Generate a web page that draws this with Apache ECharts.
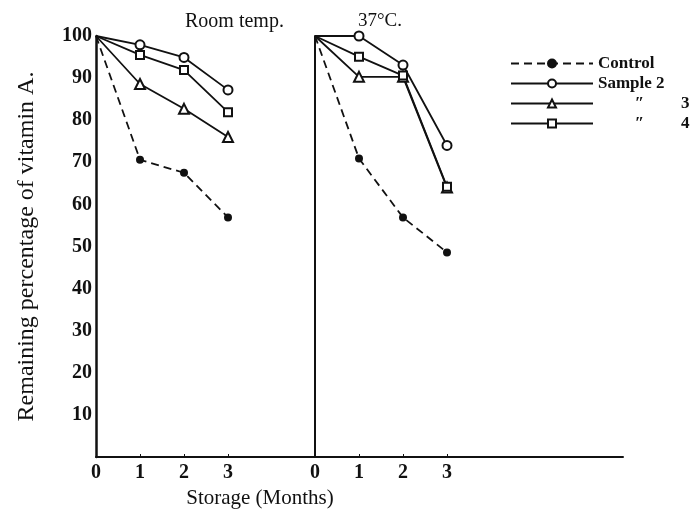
<!DOCTYPE html>
<html>
<head>
<meta charset="utf-8">
<script src="https://cdn.jsdelivr.net/npm/echarts@6/dist/echarts.min.js"></script>
<style>
  html, body { margin: 0; padding: 0; background: #fff; }
  #main { width: 693px; height: 509px; }
</style>
</head>
<body>
<div id="main"></div>
<script>
var months = [0, 1, 2, 3];
var seriesNames = ['Control', 'Sample 2', 'Sample 3', 'Sample 4'];

// room temperature panel
var roomControl = [100, 70.6, 67.5, 56.9];
var roomSample2 = [100, 97.9, 94.9, 87.2];
var roomSample3 = [100, 88.6, 82.7, 76.0];
var roomSample4 = [100, 95.5, 91.9, 81.9];

// 37°C panel
var hotControl = [100, 70.9, 56.9, 48.6];
var hotSample2 = [100, 100, 93.1, 74.0];
var hotSample3 = [100, 90.3, 90.3, 64.0];
var hotSample4 = [100, 95.1, 90.6, 64.2];

var xTicks = [0, 1, 2, 3];

var serif = '"Liberation Serif", "DejaVu Serif", serif';

// no marker on the common starting point
function pairs(vals) {
    return months.map(function (m, i) {
        return i === 0 ? { value: [m, vals[i]], symbol: 'none' } : [m, vals[i]];
    });
}

var styles = {
    'Control':  { symbol: 'circle', symbolSize: 6, dash: [8, 5], fill: '#111' },
    'Sample 2': { symbol: 'circle', symbolSize: 9, dash: 'solid', fill: '#fff' },
    'Sample 3': { symbol: 'triangle', symbolSize: 10, dash: 'solid', fill: '#fff' },
    'Sample 4': { symbol: 'rect', symbolSize: 8, dash: 'solid', fill: '#fff' }
};

function makeSeries(name, vals, idx) {
    var s = styles[name];
    return {
        name: name,
        type: 'line',
        xAxisIndex: idx,
        yAxisIndex: idx,
        data: pairs(vals),
        symbol: s.symbol,
        symbolSize: s.symbolSize,
        lineStyle: { color: '#111', width: 1.8, type: s.dash },
        itemStyle: { color: s.fill, borderColor: '#111', borderWidth: 2 },
        animation: false
    };
}

var myChart = echarts.init(document.getElementById('main'));

var option = {
    backgroundColor: '#fff',
    title: [
        { text: 'Room temp.', left: 180, top: 7,
          textStyle: { fontFamily: serif, fontSize: 20, fontWeight: 'normal', color: '#111' } },
        { text: '37°C.', left: 353, top: 7,
          textStyle: { fontFamily: serif, fontSize: 19, fontWeight: 'normal', color: '#111' } }
    ],
    legend: {
        orient: 'vertical',
        left: 505,
        top: 50,
        itemWidth: 82,
        itemHeight: 10,
        itemGap: 3,
        data: seriesNames,
        formatter: function (name) {
            if (name === 'Sample 3') return '{d|″}{n|3}';
            if (name === 'Sample 4') return '{d|″}{n|4}';
            return name;
        },
        textStyle: {
            fontFamily: serif, fontSize: 17, fontWeight: 'bold', color: '#111',
            rich: {
                d: { width: 83, align: 'center', fontFamily: serif, fontSize: 17, fontWeight: 'bold', color: '#111' },
                n: { fontFamily: serif, fontSize: 17, fontWeight: 'bold', color: '#111' }
            }
        }
    },
    grid: [
        { left: 96, top: 36, width: 220, height: 421, outerBoundsMode: 'none' },
        { left: 315, top: 36, width: 308, height: 421, outerBoundsMode: 'none' }
    ],
    xAxis: [
        {
            type: 'value', gridIndex: 0, min: 0, max: 5, interval: 1,
            name: 'Storage (Months)', nameLocation: 'middle', nameGap: 30,
            nameTextStyle: { fontFamily: serif, fontSize: 21, color: '#111', padding: [0, 0, 0, 108] },
            axisLine: { lineStyle: { color: '#111', width: 2 } },
            axisTick: { inside: true, length: 3, customValues: [1, 2, 3], lineStyle: { color: '#111' } },
            axisLabel: { customValues: xTicks, margin: 6, fontFamily: serif, fontSize: 20, fontWeight: 'bold', color: '#111' },
            splitLine: { show: false }
        },
        {
            type: 'value', gridIndex: 1, min: 0, max: 7, interval: 1,
            axisLine: { lineStyle: { color: '#111', width: 2 } },
            axisTick: { inside: true, length: 3, customValues: [1, 2, 3], lineStyle: { color: '#111' } },
            axisLabel: { customValues: xTicks, margin: 6, fontFamily: serif, fontSize: 20, fontWeight: 'bold', color: '#111' },
            splitLine: { show: false }
        }
    ],
    yAxis: [
        {
            type: 'value', gridIndex: 0, min: 0, max: 100, interval: 10,
            name: 'Remaining percentage of vitamin A.', nameLocation: 'middle', nameGap: 57,
            nameTextStyle: { fontFamily: serif, fontSize: 24, color: '#111' },
            axisLine: { show: true, lineStyle: { color: '#111', width: 2.5 } },
            axisTick: { show: false },
            axisLabel: {
                margin: 4, fontFamily: serif, fontSize: 20, fontWeight: 'bold', color: '#111',
                formatter: function (v) { return v === 0 ? '' : v; }
            },
            splitLine: { show: false }
        },
        {
            type: 'value', gridIndex: 1, min: 0, max: 100, interval: 10,
            axisLine: { show: true, lineStyle: { color: '#111', width: 2 } },
            axisTick: { show: false },
            axisLabel: { show: false },
            splitLine: { show: false }
        }
    ],
    series: [
        makeSeries('Control', roomControl, 0),
        makeSeries('Sample 2', roomSample2, 0),
        makeSeries('Sample 3', roomSample3, 0),
        makeSeries('Sample 4', roomSample4, 0),
        makeSeries('Control', hotControl, 1),
        makeSeries('Sample 2', hotSample2, 1),
        makeSeries('Sample 3', hotSample3, 1),
        makeSeries('Sample 4', hotSample4, 1)
    ]
};
myChart.setOption(option);
</script>
</body>
</html>
